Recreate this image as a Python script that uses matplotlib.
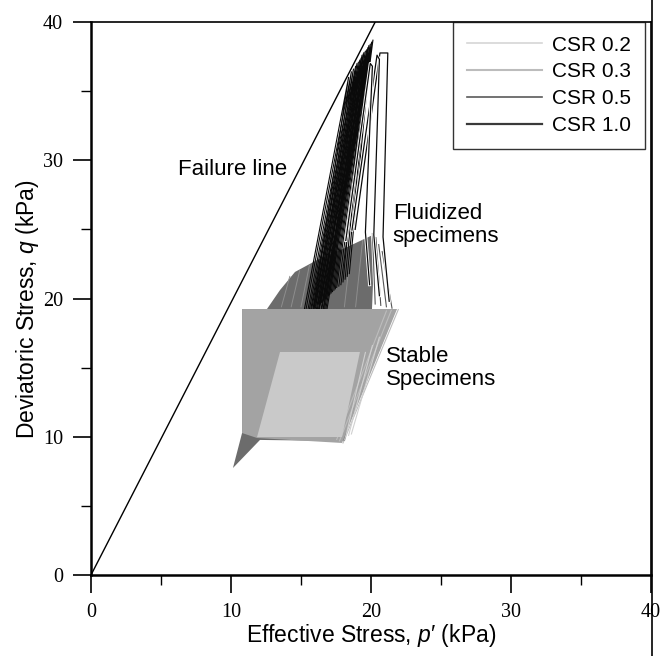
import matplotlib
matplotlib.use("Agg")
import matplotlib.pyplot as plt
from matplotlib.lines import Line2D
import matplotlib.patheffects as pe

# ---------------- data ----------------
failure_p = [0.0, 20.3]
failure_q = [0.0, 40.0]

# envelope of the densely overlapping cycles (p', q) for the stable specimens
csr02_p = [11.86, 13.50, 19.21, 17.93]
csr02_q = [9.98, 16.13, 16.13, 9.98]

csr03_p = [10.79, 21.86, 17.93, 11.86, 10.79]
csr03_q = [19.24, 19.24, 9.55, 9.91, 10.27]

# individual cycles visible along the right edge of the stable envelopes
csr03_edge_top_p = [21.10, 21.45, 21.95]
csr03_edge_bot_p = [17.55, 17.75, 18.00]
csr03_edge_top_q = [19.10, 19.15, 19.20]
csr03_edge_bot_q = [9.80, 9.70, 9.55]
csr02_edge_top_p = [19.60, 20.10, 20.60]
csr02_edge_bot_p = [18.20, 18.40, 18.60]
csr02_edge_top_q = [16.10, 16.60, 17.20]
csr02_edge_bot_q = [10.00, 10.10, 10.20]

csr05_p = [10.14, 10.79, 10.79, 12.57, 13.50, 14.57, 16.14, 18.14, 20.29, 20.07, 18.14, 12.07]
csr05_q = [7.74, 10.27, 19.24, 19.24, 20.61, 21.92, 22.78, 23.65, 24.67, 19.24, 9.69, 9.77]

# CSR 0.5 cycles visible at the right edge of the fluidized band
csr05_edge_top_p = [20.10, 20.35, 20.55, 20.80]
csr05_edge_top_q = [24.70, 24.40, 23.90, 23.40]
csr05_edge_bot_p = [20.30, 20.70, 21.10, 21.50]
csr05_edge_bot_q = [19.60, 19.50, 19.40, 19.30]

# lighter streaks inside the CSR 0.5 band
csr05_streak_top_p = [14.20, 14.90, 15.60, 16.60, 17.30, 18.60, 19.40]
csr05_streak_top_q = [21.60, 22.00, 22.40, 22.90, 23.20, 23.80, 24.20]
csr05_streak_bot_p = [13.60, 14.30, 15.00, 16.00, 16.80, 18.10, 18.90]
csr05_streak_bot_q = [19.40, 19.40, 19.40, 19.40, 19.40, 19.40, 19.40]

# CSR 1.0 loops: start (bottom) -> peak -> end (bottom)
csr10_start_p = [15.20, 15.30, 15.42, 15.50, 15.58, 15.66, 15.72, 15.80, 15.86, 15.93,
                 16.00, 16.05, 16.12, 16.18, 16.25, 16.32, 16.40, 16.48, 16.56, 16.65,
                 16.75, 16.85]
csr10_start_q = [19.00, 18.90, 18.80, 18.70, 18.60, 18.70, 18.50, 18.60, 18.90, 18.80,
                 18.70, 18.60, 18.50, 18.70, 18.90, 18.60, 18.80, 18.70, 18.90, 19.00,
                 19.10, 19.20]
csr10_peak_p = [18.40, 18.60, 18.75, 18.90, 19.00, 19.10, 19.20, 19.30, 19.36, 19.45,
                19.50, 19.60, 19.70, 19.78, 19.85, 19.95, 20.05, 20.14, 19.55, 19.75,
                19.90, 20.00]
csr10_peak_q = [36.00, 36.40, 36.60, 36.80, 37.00, 37.10, 37.25, 37.40, 37.60, 37.70,
                37.80, 37.90, 38.00, 38.15, 38.30, 38.40, 38.55, 38.70, 37.30, 37.70,
                38.00, 38.20]
csr10_end_p = [15.90, 16.05, 16.20, 16.30, 16.45, 16.55, 16.65, 16.75, 16.85, 16.95,
               17.05, 17.15, 17.25, 17.35, 17.45, 17.55, 17.70, 17.85, 18.00, 18.15,
               18.30, 18.45]
csr10_end_q = [19.40, 19.50, 19.60, 19.60, 19.70, 19.80, 19.90, 20.00, 20.10, 20.20,
               20.30, 20.40, 20.50, 20.60, 20.70, 20.80, 20.90, 21.00, 21.20, 21.40,
               21.60, 21.80]

# outer CSR 1.0 loops (flat-topped)
outer_p = [[18.87, 20.64, 21.20, 20.86, 21.30],
           [18.64, 20.43, 20.60, 20.20, 20.60],
           [18.20, 19.95, 20.10, 19.60, 19.90]]
outer_q = [[25.00, 37.76, 37.76, 24.45, 19.80],
           [24.95, 37.60, 37.30, 24.60, 20.20],
           [24.20, 37.00, 36.80, 24.80, 21.00]]

legend_labels = ["CSR 0.2", "CSR 0.3", "CSR 0.5", "CSR 1.0"]
legend_colors = ["#d6d6d6", "#bcbcbc", "#5a5a5a", "#3a3a3a"]
fill_colors = ["#c9c9c9", "#a3a3a3", "#6c6c6c", "#0a0a0a"]

x_ticks = [0, 10, 20, 30, 40]
y_ticks = [0, 10, 20, 30, 40]

# ---------------- figure ----------------
SANS = ["Liberation Sans", "DejaVu Sans"]
SERIF = ["Liberation Serif", "DejaVu Serif"]
plt.rcParams["mathtext.fontset"] = "custom"
plt.rcParams["mathtext.it"] = "Liberation Sans:italic"
plt.rcParams["mathtext.rm"] = "Liberation Sans"

fig = plt.figure(figsize=(6.61, 6.56), dpi=100)
ax = fig.add_axes([91 / 661, 1 - 575 / 656, 560 / 661, 553 / 656])
ax.set_xlim(0, 40)
ax.set_ylim(0, 40)

# failure line
ax.plot(failure_p, failure_q, color="black", lw=1.0, zorder=2)

# CSR 0.5 band (fluidized / lower)
ax.fill(csr05_p, csr05_q, color=fill_colors[2], lw=0, zorder=3)
for tp, tq, bp, bq in zip(csr05_streak_top_p, csr05_streak_top_q, csr05_streak_bot_p, csr05_streak_bot_q):
    ax.plot([tp, bp], [tq, bq], color="#8e8e8e", lw=0.7, zorder=3)
for tp, tq, bp, bq in zip(csr05_edge_top_p, csr05_edge_top_q, csr05_edge_bot_p, csr05_edge_bot_q):
    ax.plot([tp, bp], [tq, bq], color="#555555", lw=0.8, zorder=3,
            path_effects=[pe.withStroke(linewidth=2.0, foreground="white")])

# CSR 1.0 loops
for sp, sq, pp, pq, ep, eq in zip(csr10_start_p, csr10_start_q, csr10_peak_p, csr10_peak_q,
                                  csr10_end_p, csr10_end_q):
    ax.plot([sp, pp, ep], [sq, pq, eq], color=fill_colors[3], lw=0.8, zorder=4)
for op, oq in zip(outer_p, outer_q):
    ax.plot(op, oq, color=fill_colors[3], lw=0.9, zorder=4,
            path_effects=[pe.withStroke(linewidth=2.2, foreground="white")])

# CSR 0.3 and 0.2 envelopes (stable)
ax.fill(csr03_p, csr03_q, color=fill_colors[1], lw=0, zorder=5)
for tp, tq, bp, bq in zip(csr03_edge_top_p, csr03_edge_top_q, csr03_edge_bot_p, csr03_edge_bot_q):
    ax.plot([tp, bp], [tq, bq], color="#bdbdbd", lw=0.8, zorder=5)
ax.fill(csr02_p, csr02_q, color=fill_colors[0], lw=0, zorder=6)
for tp, tq, bp, bq in zip(csr02_edge_top_p, csr02_edge_top_q, csr02_edge_bot_p, csr02_edge_bot_q):
    ax.plot([tp, bp], [tq, bq], color="#d0d0d0", lw=0.8, zorder=5.5)

# axes styling
ax.set_xticks(x_ticks)
ax.set_yticks(y_ticks)
ax.set_xticks([5, 15, 25, 35], minor=True)
ax.set_yticks([5, 15, 25, 35], minor=True)
ax.tick_params(which="major", direction="out", length=13, width=1.2, pad=7)
ax.tick_params(which="minor", direction="out", length=7, width=1.0)
for lab in ax.get_xticklabels() + ax.get_yticklabels():
    lab.set_family(SERIF)
    lab.set_fontsize(14.5)
for side in ["left", "bottom"]:
    ax.spines[side].set_linewidth(1.8)
for side in ["top", "right"]:
    ax.spines[side].set_linewidth(1.2)

ax.set_xlabel("Effective Stress, $\\mathit{p}$\u2032 (kPa)", fontsize=16.5, family=SANS, labelpad=0)
ax.set_ylabel("Deviatoric Stress, $\\mathit{q}$ (kPa)", fontsize=16.5, family=SANS)
ax.yaxis.set_label_coords(-0.09, 0.48)

# annotations
ax.text(6.2, 29.3, "Failure line", fontsize=16, family=SANS, va="center", ha="left")
ax.text(21.55, 25.3, "Fluidized\nspecimens", fontsize=16, family=SANS, va="center", ha="left",
        linespacing=1.15)
ax.text(21.1, 14.97, "Stable\nSpecimens", fontsize=16, family=SANS, va="center", ha="left",
        linespacing=1.15)

# legend
handles = [Line2D([], [], color=c, lw=lw) for c, lw in zip(legend_colors, [1.2, 1.5, 1.2, 1.6])]
leg = ax.legend(handles, legend_labels, loc="upper right", bbox_to_anchor=(0.989, 1.0),
                borderaxespad=0, frameon=True, fancybox=False, handlelength=3.6,
                handletextpad=0.5, labelspacing=0.38, borderpad=0.65,
                prop={"family": SANS, "size": 15})
leg.get_frame().set_edgecolor("black")
leg.get_frame().set_linewidth(1.0)
leg.set_zorder(10)

# right border line of the figure
fig.add_artist(Line2D([652 / 661, 652 / 661], [0, 1], color="black", lw=1.2,
                      transform=fig.transFigure))

fig.savefig("out.png", dpi=100)
